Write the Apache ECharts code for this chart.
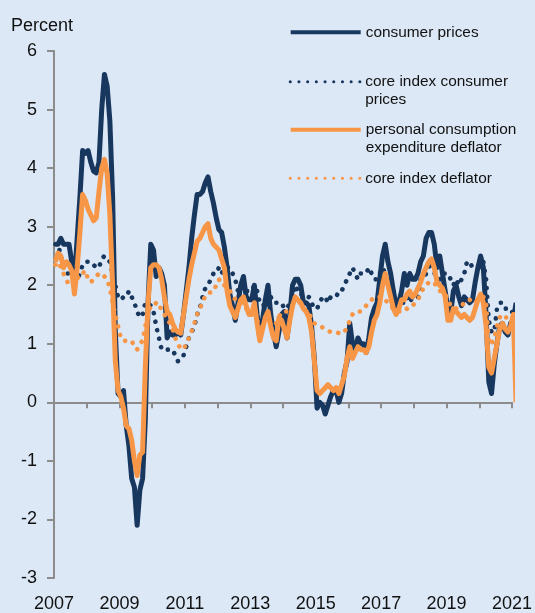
<!DOCTYPE html>
<html>
<head>
<meta charset="utf-8">
<script src="https://cdn.jsdelivr.net/npm/echarts@6/dist/echarts.min.js"></script>
<style>
html,body{margin:0;padding:0;background:#dce8f6;}
#chart{width:535px;height:613px;}
</style>
</head>
<body>
<div id="chart"></div>
<script>
// Monthly data, Jan 2007 .. Feb 2021 (year-on-year, percent)
const startYear = 2007;
const seriesNames = ['consumer prices', 'core index consumer prices', 'personal consumption expenditure deflator', 'core index deflator'];
const legendLabels = ['consumer prices', '\ncore index consumer\nprices', '\npersonal consumption\nexpenditure deflator', 'core index deflator'];
const yTicks = [-3, -2, -1, 0, 1, 2, 3, 4, 5, 6];
const xTickYears = [2007, 2009, 2011, 2013, 2015, 2017, 2019, 2021];

const consumerPrices = [
  2.7, 2.7, 2.8, 2.7, 2.7, 2.7, 2.4, 2.1, 2.8, 3.5, 4.3, 4.25,
  4.3, 4.1, 3.95, 3.92, 4.1, 5.0, 5.6, 5.4, 4.8, 3.5, 1.2, 0.15,
  0.1, 0.2, -0.4, -0.75, -1.3, -1.45, -2.1, -1.5, -1.3, -0.3, 1.7, 2.7,
  2.6, 2.15, 2.3, 2.2, 2.0, 1.1, 1.2, 1.15, 1.15, 1.2, 1.15, 1.5,
  1.9, 2.3, 2.8, 3.2, 3.55, 3.55, 3.6, 3.75, 3.85, 3.6, 3.4, 3.15,
  2.95, 2.9, 2.65, 2.3, 1.85, 1.65, 1.4, 1.7, 2.0, 2.15, 1.8, 1.75,
  1.75, 2.0, 1.5, 1.1, 1.4, 1.75, 2.0, 1.5, 1.2, 0.95, 1.2, 1.5,
  1.55, 1.1, 1.5, 2.0, 2.1, 2.1, 2.0, 1.7, 1.7, 1.65, 1.3, 0.75,
  -0.1, 0.0, -0.05, -0.2, -0.05, 0.1, 0.2, 0.2, 0.0, 0.15, 0.5, 0.7,
  1.35, 1.0, 0.9, 1.1, 1.0, 1.0, 0.85, 1.1, 1.45, 1.6, 1.7, 2.1,
  2.5, 2.7, 2.4, 2.2, 1.9, 1.65, 1.7, 1.9, 2.2, 2.0, 2.2, 2.1,
  2.1, 2.2, 2.4, 2.5, 2.8, 2.9, 2.9, 2.7, 2.3, 2.5, 2.2, 1.9,
  1.6, 1.5, 1.9, 2.0, 1.8, 1.65, 1.8, 1.75, 1.7, 1.75, 2.05, 2.3,
  2.5, 2.3, 1.5, 0.35, 0.15, 0.65, 1.0, 1.3, 1.35, 1.2, 1.15, 1.35,
  1.4, 1.7
];
const coreConsumerPrices = [
  2.7, 2.7, 2.5, 2.3, 2.2, 2.2, 2.2, 2.1, 2.1, 2.2, 2.35, 2.4,
  2.4, 2.35, 2.35, 2.3, 2.3, 2.45, 2.5, 2.45, 2.4, 2.2, 2.0, 1.8,
  1.75, 1.8, 1.8, 1.9, 1.8, 1.7, 1.55, 1.45, 1.5, 1.7, 1.7, 1.65,
  1.55, 1.3, 1.1, 0.9, 0.9, 0.9, 0.9, 0.9, 0.8, 0.7, 0.75, 0.8,
  0.95, 1.1, 1.2, 1.3, 1.5, 1.6, 1.8, 1.95, 2.0, 2.1, 2.2, 2.2,
  2.3, 2.2, 2.3, 2.3, 2.3, 2.2, 2.1, 1.9, 2.0, 2.0, 1.9, 1.9,
  1.9, 2.0, 1.9, 1.7, 1.7, 1.6, 1.7, 1.8, 1.7, 1.7, 1.7, 1.7,
  1.6, 1.6, 1.7, 1.8, 2.0, 1.9, 1.9, 1.7, 1.7, 1.8, 1.7, 1.6,
  1.6, 1.7, 1.8, 1.8, 1.7, 1.8, 1.8, 1.8, 1.9, 1.9, 2.0, 2.1,
  2.2, 2.3, 2.2, 2.1, 2.2, 2.2, 2.2, 2.3, 2.2, 2.1, 2.1, 2.2,
  2.3, 2.2, 2.0, 1.9, 1.7, 1.7, 1.7, 1.7, 1.7, 1.8, 1.7, 1.8,
  1.8, 1.8, 2.1, 2.1, 2.2, 2.3, 2.4, 2.2, 2.2, 2.1, 2.2, 2.2,
  2.2, 2.1, 2.0, 2.1, 2.0, 2.1, 2.2, 2.4, 2.4, 2.3, 2.3, 2.3,
  2.3, 2.4, 2.1, 1.4, 1.2, 1.2, 1.6, 1.7, 1.7, 1.6, 1.6, 1.6,
  1.5, 1.6
];
const pceDeflator = [
  2.4, 2.55, 2.5, 2.3, 2.4, 2.35, 2.25, 1.85, 2.3, 2.9, 3.55, 3.45,
  3.3, 3.2, 3.1, 3.15, 3.6, 4.0, 4.15, 3.9, 3.2, 2.0, 0.7, 0.2,
  0.1, -0.1, -0.4, -0.45, -0.65, -1.0, -1.25, -0.9, -0.85, 0.6, 1.7, 2.3,
  2.35, 2.35, 2.3, 2.1, 1.8, 1.55, 1.5, 1.35, 1.25, 1.2, 1.18, 1.5,
  1.8, 2.1, 2.35, 2.55, 2.75, 2.8, 2.9, 3.0, 3.05, 2.8, 2.7, 2.65,
  2.6, 2.45, 2.3, 1.9, 1.65, 1.55, 1.45, 1.6, 1.75, 1.8, 1.65, 1.5,
  1.5, 1.7, 1.35, 1.05, 1.25, 1.45, 1.55, 1.3, 1.1, 1.05, 1.45, 1.4,
  1.25, 1.1, 1.4, 1.65, 1.8, 1.75, 1.7, 1.6, 1.55, 1.45, 1.2, 0.7,
  0.2, 0.15, 0.2, 0.25, 0.3, 0.25, 0.2, 0.25, 0.15, 0.3, 0.45, 0.75,
  0.95, 0.75, 0.85, 0.95, 0.9, 0.9, 0.85, 0.95, 1.2, 1.4, 1.5, 1.7,
  2.0, 2.2, 2.0, 1.8, 1.6, 1.5, 1.6, 1.75, 1.75, 1.85, 1.9, 1.8,
  1.85, 1.95, 2.05, 2.2, 2.3, 2.4, 2.45, 2.3, 2.05, 2.0, 1.95, 1.8,
  1.4, 1.4, 1.6, 1.55, 1.5, 1.45, 1.5, 1.45, 1.4, 1.45, 1.6, 1.75,
  1.85, 1.7, 1.3, 0.6, 0.5, 0.75, 1.0, 1.25, 1.35, 1.25, 1.2, 1.3,
  1.5, 0
];
const coreDeflator = [
  2.35, 2.4, 2.3, 2.2, 2.1, 2.0, 2.0, 2.0, 2.1, 2.2, 2.2, 2.25,
  2.1, 2.05, 2.1, 2.15, 2.2, 2.2, 2.15, 2.1, 1.95, 1.7, 1.5, 1.3,
  1.1, 1.05, 1.05, 1.05, 1.05, 0.95, 0.9, 1.0, 1.05, 1.3, 1.5, 1.65,
  1.65, 1.7, 1.7, 1.55, 1.5, 1.45, 1.35, 1.25, 1.1, 0.98, 0.93, 0.9,
  1.0, 1.1, 1.22, 1.35, 1.5, 1.6, 1.7, 1.82, 1.87, 1.88, 1.89, 2.0,
  2.1, 2.0, 2.0, 1.95, 1.9, 1.85, 1.75, 1.7, 1.7, 1.7, 1.6, 1.55,
  1.55, 1.5, 1.4, 1.3, 1.3, 1.35, 1.4, 1.4, 1.35, 1.35, 1.45, 1.55,
  1.55, 1.55, 1.6, 1.65, 1.65, 1.7, 1.7, 1.6, 1.55, 1.5, 1.45, 1.35,
  1.32, 1.3, 1.28, 1.25, 1.22, 1.2, 1.2, 1.2, 1.18, 1.17, 1.2, 1.28,
  1.4, 1.5, 1.55, 1.55, 1.55, 1.6, 1.65, 1.7, 1.75, 1.8, 1.8, 1.8,
  1.8, 1.75, 1.7, 1.65, 1.6, 1.55, 1.55, 1.55, 1.55, 1.6, 1.65, 1.65,
  1.7, 1.75, 1.85, 1.95, 2.0, 2.05, 2.05, 2.05, 1.95, 1.9, 1.9, 1.85,
  1.75, 1.65, 1.6, 1.6, 1.65, 1.65, 1.7, 1.75, 1.75, 1.7, 1.7, 1.75,
  1.8, 1.8, 1.7, 1.0, 1.0, 1.1, 1.3, 1.45, 1.5, 1.45, 1.45, 1.5,
  1.5, 1.4
];

const NAVY = '#17375E';
const ORANGE = '#F79646';
const AXIS = '#8c8c8c';
const FONT = 'Liberation Sans, Arial, sans-serif';

// month index -> mid-month date as fractional year
function toPairs(values) {
  return values.map((v, i) => [startYear + (i + 0.5) / 12, v]);
}

const chart = echarts.init(document.getElementById('chart'), null, {renderer: 'canvas'});

const solidStyle = (color) => ({color: color, width: 5, type: 'solid', join: 'round', cap: 'butt'});
const dotStyle = (color) => ({color: color, width: 4.6, type: [0.1, 8.6], cap: 'round', join: 'round'});

function legendItem(idx, top, dotted, color) {
  return {
    data: [seriesNames[idx]],
    left: 288.7,
    top: top,
    padding: 0,
    itemWidth: 70,
    itemHeight: 14,
    selectedMode: false,
    formatter: () => legendLabels[idx],
    itemStyle: {opacity: 0, color: 'transparent', borderWidth: 0},
    lineStyle: dotted ? {color: color, width: 3, type: [0.1, 8.6], cap: 'round'} : {color: color, width: 4, type: 'solid', cap: 'butt'},
    textStyle: {fontFamily: FONT, fontSize: 15.4, color: '#111', lineHeight: 17.5}
  };
}

const option = {
  backgroundColor: '#dce8f6',
  animation: false,
  title: {
    text: 'Percent', left: 6, top: 12,
    textStyle: {fontFamily: FONT, fontSize: 18, fontWeight: 'normal', color: '#111'}
  },
  legend: [
    legendItem(0, 23.5, false, NAVY),
    legendItem(1, 55.5, true, NAVY),
    legendItem(2, 103.5, false, ORANGE),
    legendItem(3, 169.55, true, ORANGE)
  ],
  grid: {left: 54, top: 51, right: 21.7, bottom: 32, containLabel: false},
  xAxis: [
    {
      type: 'value', min: 2007, max: 2021, interval: 1, position: 'top',
      axisLine: {show: true, onZero: true, lineStyle: {color: AXIS, width: 2}},
      axisTick: {show: true, inside: true, length: 6, lineStyle: {color: AXIS, width: 2}},
      axisLabel: {show: false},
      splitLine: {show: false}
    },
    {
      type: 'value', min: 2007, max: 2021, interval: 1, position: 'bottom',
      axisLine: {show: false, onZero: false},
      axisTick: {show: false},
      splitLine: {show: false},
      axisLabel: {
        show: true, margin: 17, fontFamily: FONT, fontSize: 18, color: '#111',
        formatter: (v) => xTickYears.indexOf(Math.round(v)) >= 0 ? String(Math.round(v)) : ''
      }
    }
  ],
  yAxis: {
    type: 'value', min: yTicks[0], max: yTicks[yTicks.length - 1], interval: 1,
    axisLine: {show: true, onZero: false, lineStyle: {color: AXIS, width: 2}},
    axisTick: {show: true, inside: false, length: 7, lineStyle: {color: AXIS, width: 2}},
    splitLine: {show: false},
    axisLabel: {margin: 17, fontFamily: FONT, fontSize: 18, color: '#111'}
  },
  series: [
    {name: seriesNames[0], type: 'line', xAxisIndex: 1, data: toPairs(consumerPrices), symbol: 'none', clip: false, lineStyle: solidStyle(NAVY), itemStyle: {color: NAVY}, z: 2},
    {name: seriesNames[1], type: 'line', xAxisIndex: 1, data: toPairs(coreConsumerPrices), symbol: 'none', clip: false, lineStyle: dotStyle(NAVY), itemStyle: {color: NAVY}, z: 3},
    {name: seriesNames[2], type: 'line', xAxisIndex: 1, data: toPairs(pceDeflator), symbol: 'none', clip: false, lineStyle: solidStyle(ORANGE), itemStyle: {color: ORANGE}, z: 4},
    {name: seriesNames[3], type: 'line', xAxisIndex: 1, data: toPairs(coreDeflator), symbol: 'none', clip: false, lineStyle: dotStyle(ORANGE), itemStyle: {color: ORANGE}, z: 5}
  ]
};
chart.setOption(option);
</script>
</body>
</html>
